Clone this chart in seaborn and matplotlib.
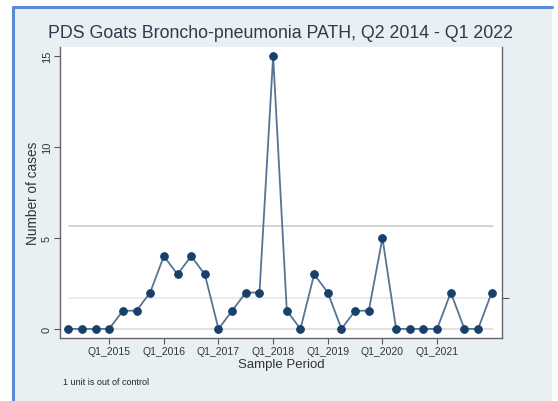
import matplotlib
matplotlib.use("Agg")
import matplotlib.pyplot as plt
from matplotlib.patches import Rectangle
import seaborn as sns
import pandas as pd
import numpy as np

# ---- data ----
cases = [0, 0, 0, 0, 1, 1, 2, 4, 3, 4, 3, 0, 1, 2, 2, 15,
         1, 0, 3, 2, 0, 1, 1, 5, 0, 0, 0, 0, 2, 0, 0, 2]
tick_positions = [3, 7, 11, 15, 19, 23, 27]
tick_labels = ["Q1_2015", "Q1_2016", "Q1_2017", "Q1_2018", "Q1_2019", "Q1_2020", "Q1_2021"]
mean_line = 1.72
ucl = 5.65
lcl = 0.0

df = pd.DataFrame({"period": np.arange(len(cases)), "cases": cases})

sns.set_style("white")
plt.rcParams["font.family"] = ["Liberation Sans", "DejaVu Sans"]

fig = plt.figure(figsize=(5.58, 4.02), dpi=100)
fig.patch.set_facecolor("white")
# outer panel background
fig.patches.append(Rectangle((13/558, 0), (552-13)/558, 1 - 8/402, transform=fig.transFigure,
                             facecolor="#e9f0f4", edgecolor="none", zorder=-10))
fig.lines.append(plt.Line2D([13/558, 13/558], [0, 1 - 8/402], transform=fig.transFigure,
                            color="#5b8ad6", lw=2.2, zorder=-9))
fig.lines.append(plt.Line2D([13/558, 552/558], [1 - 8/402, 1 - 8/402], transform=fig.transFigure,
                            color="#5b8ad6", lw=2.2, zorder=-9))

ax = fig.add_axes([60/558, 1 - 339/402, (502-60)/558, (339-48)/402])
ax.set_zorder(2)
ax.set_facecolor("white")

ax.axhline(ucl, color="#cccccc", lw=1.2, xmin=0.02, xmax=0.98, zorder=1)
ax.axhline(mean_line, color="#e2e9ec", lw=1.2, xmin=0.02, xmax=0.98, zorder=1)
ax.axhline(lcl, color="#dcdcdc", lw=1.2, xmin=0.02, xmax=0.98, zorder=1)

sns.lineplot(data=df, x="period", y="cases", ax=ax, color="#577592", lw=1.3,
             marker="o", markersize=5.5, markerfacecolor="#17406a",
             markeredgecolor="#17406a", zorder=3)

ax.set_xlim(-0.6, 31.75)
ax.set_ylim(-0.5, 15.5)
ax.set_xticks(tick_positions)
ax.set_xticklabels(tick_labels, fontsize=7.5, color="#333333")
ax.set_yticks([0, 5, 10, 15])
ax.set_yticklabels(["0", "5", "10", "15"], fontsize=8, rotation=90, va="center", color="#333333")
ax.tick_params(axis="both", direction="out", length=4, width=0.8, color="#555555",
               left=True, bottom=True, pad=2)

for s in ["left", "bottom", "right"]:
    ax.spines[s].set_color("#666666")
    ax.spines[s].set_linewidth(1.0)
ax.spines["top"].set_visible(False)

ax.set_xlabel("Sample Period", fontsize=9.5, color="#333333", labelpad=1)
ax.set_ylabel("Number of cases", fontsize=9.8, color="#333333")
ax.yaxis.set_label_coords(-0.046, 0.5)

ax2 = ax.twinx()
ax2.set_zorder(3)
ax2.patch.set_visible(False)
ax2.set_ylim(ax.get_ylim())
ax2.set_yticks([mean_line])
ax2.set_yticklabels([""])
ax2.tick_params(axis="y", direction="out", length=5, width=0.8, color="#555555")
for s in ["left", "bottom", "right", "top"]:
    ax2.spines[s].set_visible(False)

fig.text(281/558, 1 - 33/402, "PDS Goats Broncho-pneumonia PATH, Q2 2014 - Q1 2022",
         ha="center", va="center", fontsize=12.8, color="#2d3b4b")
fig.text(63/558, 1 - 383/402, "1 unit is out of control", ha="left", va="center",
         fontsize=6.5, color="#222222")

fig.savefig("out.png", dpi=100, facecolor=fig.get_facecolor())
